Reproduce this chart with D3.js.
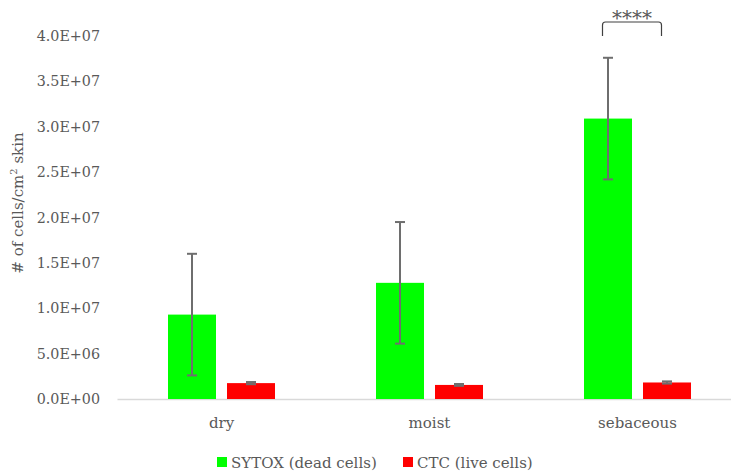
<!DOCTYPE html>
<html>
<head>
<meta charset="utf-8">
<script src="https://cdn.jsdelivr.net/npm/d3@7/dist/d3.min.js"></script>
<style>
  html, body { margin: 0; padding: 0; background: #fff; overflow: hidden; }
  svg { display: block; }
  text { font-family: "DejaVu Serif", "Liberation Serif", serif; fill: #595959; }
</style>
</head>
<body>
<svg id="chart" width="731" height="473"></svg>
<script>
// Skin site categories
const categories = ["dry", "moist", "sebaceous"];
// Series: mean counts per cm² and error (±)
const seriesNames = ["SYTOX (dead cells)", "CTC (live cells)"];
const seriesColors = ["#00ff00", "#ff0000"];
const sytoxValues = [9.3e6, 1.28e7, 3.09e7];
const sytoxErrors = [6.7e6, 6.7e6, 6.7e6];
const ctcValues = [1.75e6, 1.55e6, 1.82e6];
const ctcErrors = [1.2e5, 1.0e5, 1.2e5];
// Y-axis ticks
const yTicks = [0, 5e6, 1e7, 1.5e7, 2e7, 2.5e7, 3e7, 3.5e7, 4e7];
const yTickLabels = ["0.0E+00", "5.0E+06", "1.0E+07", "1.5E+07", "2.0E+07", "2.5E+07", "3.0E+07", "3.5E+07", "4.0E+07"];
// Significance annotation between the sebaceous bars
const sigCategory = "sebaceous";
const sigLabel = "****";

const svg = d3.select("#chart");
const plotLeft = 117.5, plotRight = 741.5, plotTop = 36, plotBottom = 399;

const x = d3.scaleBand().domain(categories).range([plotLeft, plotRight]).paddingInner(0).paddingOuter(0);
const barW = 48, barGap = 11;
const groupW = barW * 2 + barGap;
const y = d3.scaleLinear().domain([0, 4e7]).range([plotBottom, plotTop]);

// Y axis labels (no axis line, no ticks)
const yAxis = d3.axisLeft(y).tickValues(yTicks)
  .tickFormat((d, i) => yTickLabels[i]).tickSize(0).tickPadding(0);
const yg = svg.append("g").attr("transform", `translate(100,0)`).call(yAxis);
yg.select(".domain").remove();
yg.selectAll("text").style("font-family", '"DejaVu Serif", serif')
  .style("font-size", "14.3px").attr("fill", "#595959");

// Baseline
svg.append("line").attr("x1", plotLeft).attr("x2", plotRight)
  .attr("y1", y(0) + 0.5).attr("y2", y(0) + 0.5)
  .attr("stroke", "#d9d9d9").attr("stroke-width", 1.5);

const series = [
  { values: sytoxValues, errors: sytoxErrors, color: seriesColors[0], offset: 0 },
  { values: ctcValues, errors: ctcErrors, color: seriesColors[1], offset: barW + barGap }
];

const barX = (cat, s) => x(cat) + (x.bandwidth() - groupW) / 2 + s.offset;

series.forEach(s => {
  svg.append("g").selectAll("rect").data(categories).join("rect")
    .attr("x", c => barX(c, s))
    .attr("y", (c, i) => y(s.values[i]))
    .attr("width", barW)
    .attr("height", (c, i) => y(0) - y(s.values[i]))
    .attr("fill", s.color);
});

// Error bars
const errColor = "#6e6e6e";
series.forEach(s => {
  const g = svg.append("g").attr("stroke", errColor).attr("stroke-width", 2);
  categories.forEach((c, i) => {
    const cx = barX(c, s) + barW / 2;
    const top = y(s.values[i] + s.errors[i]);
    const bot = y(s.values[i] - s.errors[i]);
    g.append("line").attr("x1", cx).attr("x2", cx).attr("y1", top).attr("y2", bot);
    g.append("line").attr("x1", cx - 5).attr("x2", cx + 5).attr("y1", top).attr("y2", top);
    g.append("line").attr("x1", cx - 5).attr("x2", cx + 5).attr("y1", bot).attr("y2", bot);
  });
});

// Category labels
svg.append("g").selectAll("text").data(categories).join("text")
  .attr("x", c => x(c) + x.bandwidth() / 2)
  .attr("y", 428)
  .attr("text-anchor", "middle")
  .style("font-size", "15px")
  .text(c => c);

// Y-axis title
svg.append("text")
  .attr("transform", "translate(23,203) rotate(-90)")
  .attr("text-anchor", "middle")
  .style("font-size", "15px")
  .html('# of cells/cm<tspan dy="-6" font-size="10px">2</tspan><tspan dy="6"> skin</tspan>');

// Significance bracket
{
  const x1 = barX(sigCategory, series[0]) + barW / 2 - 5.5;
  const x2 = barX(sigCategory, series[1]) + barW / 2 - 5.5;
  const yTop = 22, yBot = 36, r = 3;
  svg.append("path")
    .attr("d", `M${x1},${yBot} L${x1},${yTop + r} Q${x1},${yTop} ${x1 + r},${yTop} L${x2 - r},${yTop} Q${x2},${yTop} ${x2},${yTop + r} L${x2},${yBot}`)
    .attr("fill", "none").attr("stroke", "#404040").attr("stroke-width", 1.2);
  svg.append("text")
    .attr("x", (x1 + x2) / 2).attr("y", 25)
    .attr("text-anchor", "middle")
    .style("font-size", "20px").attr("fill", "#262626")
    .text(sigLabel);
}

// Legend
const legend = svg.append("g");
const legendItems = [
  { name: seriesNames[0], color: seriesColors[0], x: 217 },
  { name: seriesNames[1], color: seriesColors[1], x: 403 }
];
legendItems.forEach(it => {
  legend.append("rect").attr("x", it.x).attr("y", 457).attr("width", 10).attr("height", 10).attr("fill", it.color);
  legend.append("text").attr("x", it.x + 14).attr("y", 467.5)
    .style("font-size", "15px").text(it.name);
});
</script>
</body>
</html>
